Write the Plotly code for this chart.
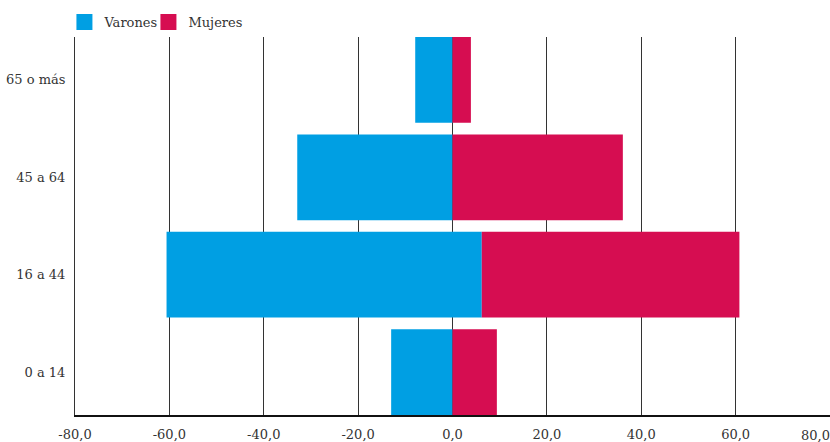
import plotly.graph_objects as go

categorias = ["0 a 14", "16 a 44", "45 a 64", "65 o más"]
varones = [13.0, 60.6, 32.9, 7.9]      # magnitudes (drawn to the left)
mujeres = [9.4, 60.8, 36.1, 3.9]
solape = [0.0, 6.2, 0.0, 0.0]          # where the two bars meet in the original
x_tickvals = [-80, -60, -40, -20, 0, 20, 40, 60]
x_ticktext = ["-80,0", "-60,0", "-40,0", "-20,0", "0,0", "20,0", "40,0", "60,0"]
ultimo_tick = 80
ultimo_texto = "80,0"

AZUL = "#009FE3"
ROSA = "#D60D51"
FONT = "DejaVu Serif"

fig = go.Figure()
fig.add_trace(go.Bar(
    y=categorias, x=[-(v + s) for v, s in zip(varones, solape)], base=solape,
    orientation="h", marker=dict(color=AZUL, line=dict(width=0)), width=0.88,
    name="Varones", showlegend=False, hoverinfo="skip"))
fig.add_trace(go.Bar(
    y=categorias, x=[m - s for m, s in zip(mujeres, solape)], base=solape,
    orientation="h", marker=dict(color=ROSA, line=dict(width=0)), width=0.88,
    name="Mujeres", showlegend=False, hoverinfo="skip"))
# legend entries (last one is an invisible spacer so the text is not clipped)
for nombre, color in [("Varones", AZUL), ("Mujeres", ROSA), (" ", "rgba(0,0,0,0)")]:
    fig.add_trace(go.Scatter(
        x=[None], y=[None], mode="markers", name=nombre, hoverinfo="skip",
        marker=dict(symbol="square", size=16, color=color)))

fig.add_annotation(x=ultimo_tick, xref="x", xanchor="right", xshift=2,
                   y=0, yref="paper", yanchor="middle", yshift=-20,
                   text=ultimo_texto, showarrow=False,
                   font=dict(family=FONT, size=13, color="#333"))

fig.update_layout(
    width=830, height=442,
    margin=dict(l=75, r=0, t=37, b=27),
    paper_bgcolor="white", plot_bgcolor="white",
    barmode="overlay",
    separators=",.",
    font=dict(family=FONT, size=13, color="#333"),
    showlegend=True,
    legend=dict(orientation="h", x=-0.014, xanchor="left", y=1, yanchor="bottom",
                font=dict(family=FONT, size=13, color="#333"),
                entrywidth=39, entrywidthmode="pixels",
                itemclick=False, traceorder="normal"),
    xaxis=dict(range=[-80, 80], tickvals=x_tickvals, ticktext=x_ticktext,
               showgrid=True, gridcolor="#333", gridwidth=1,
               zeroline=False, showline=True, linecolor="#111", linewidth=1.5,
               ticks="", ticklabelstandoff=7, automargin=False,
               tickfont=dict(family=FONT, size=13, color="#333"), fixedrange=True),
    yaxis=dict(categoryorder="array", categoryarray=categorias,
               range=[-0.44, 3.44], showgrid=False, zeroline=False,
               showline=True, linecolor="#333", linewidth=1,
               ticks="", ticklabelstandoff=6, automargin=False,
               tickfont=dict(family=FONT, size=13, color="#333"), fixedrange=True),
)

fig.write_html("out.html")
